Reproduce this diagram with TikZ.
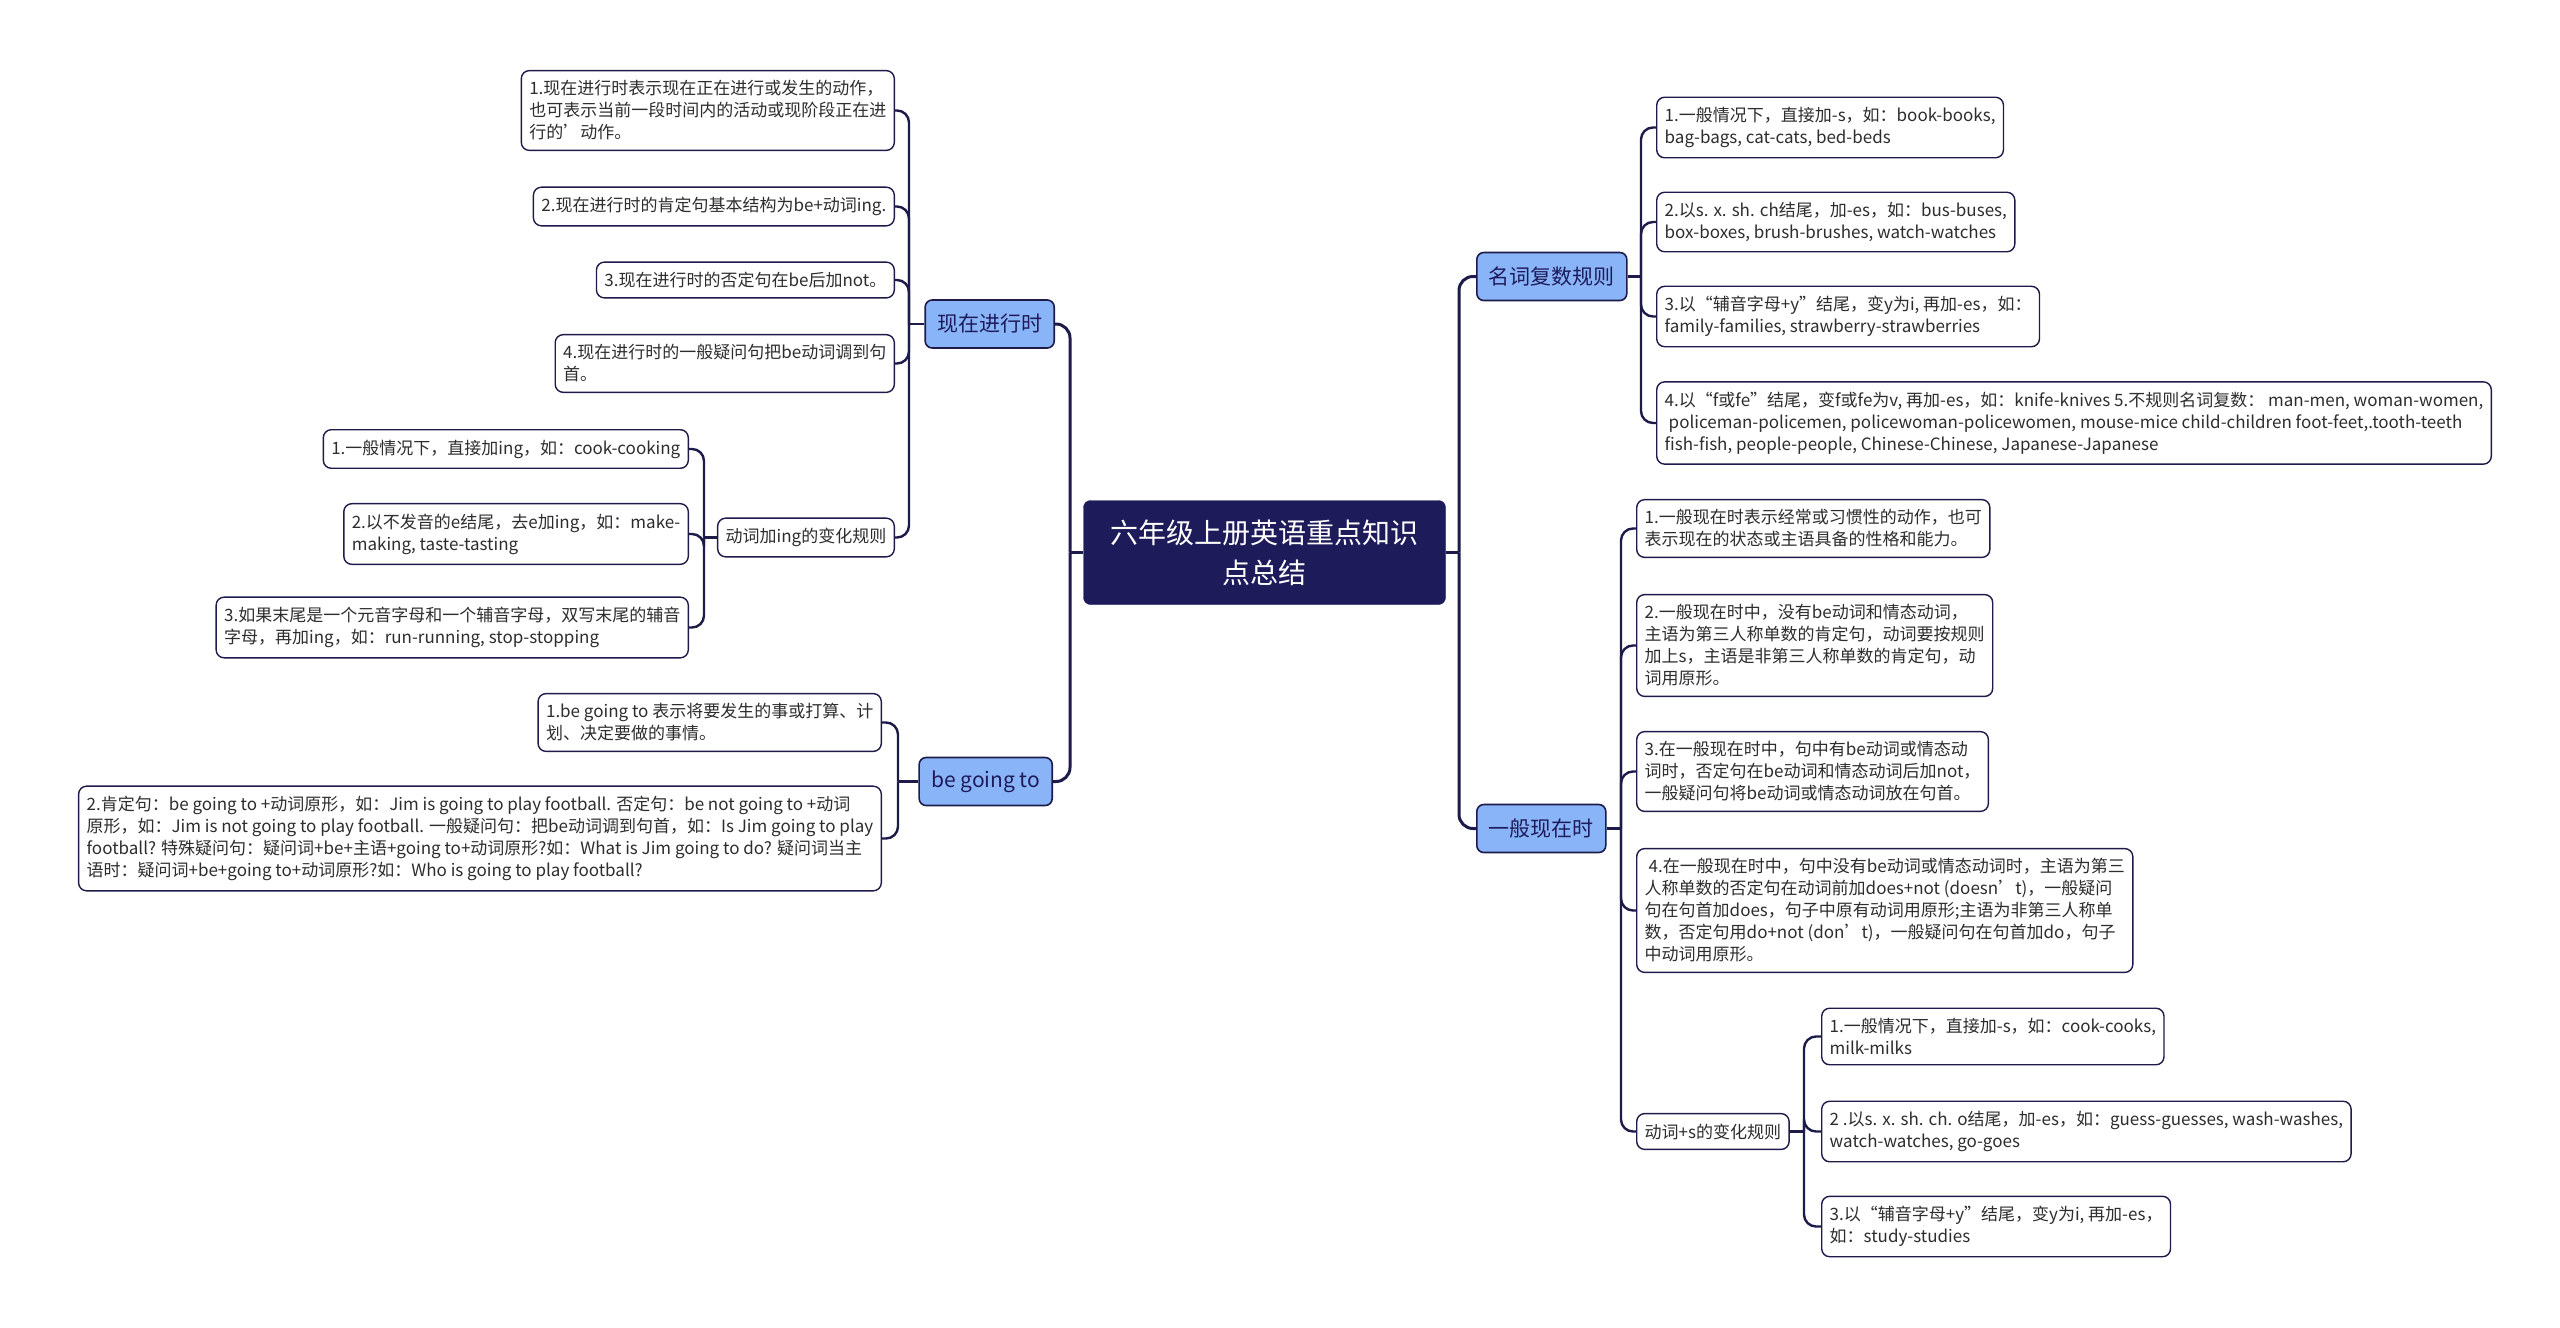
\documentclass[tikz,border=0pt]{standalone}
\usepackage{fontspec}
\setmainfont{Noto Sans CJK SC}
\definecolor{navy}{RGB}{30,27,90}
\definecolor{inkline}{RGB}{28,27,74}
\definecolor{branchblue}{RGB}{138,180,248}
\definecolor{leaftext}{RGB}{45,45,45}

\begin{document}
\begin{tikzpicture}[x=1pt, y=-1pt,
  rootbox/.style={draw=navy, fill=navy, rounded corners=7pt, align=center, text=white, font=\fontsize{28}{40}\selectfont, minimum width=362pt, minimum height=104pt},
  branch/.style={draw=inkline, line width=1.6pt, rounded corners=7pt, fill=branchblue, text=navy, font=\fontsize{21}{26}\selectfont, inner xsep=12pt, minimum height=48pt},
  leaf/.style={draw=inkline, line width=1.4pt, rounded corners=8pt, fill=white, align=left, text=leaftext, font=\fontsize{17}{22}\selectfont, inner xsep=8pt, inner ysep=10pt},
  trunk/.style={draw=inkline, line width=3pt},
  twig/.style={draw=inkline, line width=2.4pt, rounded corners=12pt}
]
  \useasboundingbox[fill=white] (0,0) rectangle (2560,1328);

  \node[rootbox] (root) at (1264.5,552.5) {六年级上册英语重点知识\\点总结};

  \node[branch, anchor=east] (now) at (1055,324) {现在进行时};
  \node[branch, anchor=east] (going) at (1053,781.5) {be going to};
  \node[branch, anchor=west] (noun) at (1476,276.5) {名词复数规则};
  \node[branch, anchor=west] (pres) at (1476,828.5) {一般现在时};

  % present continuous
  \node[leaf, anchor=east] (now1) at (895,110.5) {1.现在进行时表示现在正在进行或发生的动作，\\也可表示当前一段时间内的活动或现阶段正在进\\行的\char"0027动作。};
  \node[leaf, anchor=east] (now2) at (895,206.5) {2.现在进行时的肯定句基本结构为be+动词ing.};
  \node[leaf, anchor=east] (now3) at (895,280) {3.现在进行时的否定句在be后加not。};
  \node[leaf, anchor=east] (now4) at (895,363.5) {4.现在进行时的一般疑问句把be动词调到句\\首。};
  \node[leaf, anchor=east] (ing) at (895,537.5) {动词加ing的变化规则};

  \node[leaf, anchor=east] (ing1) at (689,449) {1.一般情况下，直接加ing，如：cook-cooking};
  \node[leaf, anchor=east] (ing2) at (689,534) {2.以不发音的e结尾，去e加ing，如：make-\\making, taste-tasting};
  \node[leaf, anchor=east] (ing3) at (689,627.5) {3.如果末尾是一个元音字母和一个辅音字母，双写末尾的辅音\\字母，再加ing，如：run-running, stop-stopping};

  % be going to
  \node[leaf, anchor=east] (going1) at (882,722.5) {1.be going to 表示将要发生的事或打算、计\\划、决定要做的事情。};
  \node[leaf, anchor=east] (going2) at (882,838.5) {2.肯定句：be going to +动词原形，如：Jim is going to play football. 否定句：be not going to +动词\\原形，如：Jim is not going to play football. 一般疑问句：把be动词调到句首，如：Is Jim going to play\\football? 特殊疑问句：疑问词+be+主语+going to+动词原形?如：What is Jim going to do? 疑问词当主\\语时：疑问词+be+going to+动词原形?如：Who is going to play football?};

  % noun plurals
  \node[leaf, anchor=west] (noun1) at (1656,127.5) {1.一般情况下，直接加-s，如：book-books,\\ bag-bags, cat-cats, bed-beds};
  \node[leaf, anchor=west] (noun2) at (1656,222) {2.以s. x. sh. ch结尾，加-es，如：bus-buses,\\box-boxes, brush-brushes, watch-watches};
  \node[leaf, anchor=west] (noun3) at (1656,316.5) {3.以“辅音字母+y”结尾，变y为i, 再加-es，如：\\family-families, strawberry-strawberries};
  \node[leaf, anchor=west] (noun4) at (1656,423) {4.以“f或fe”结尾，变f或fe为v, 再加-es，如：knife-knives 5.不规则名词复数： man-men, woman-women,\\\hspace{4pt}policeman-policemen, policewoman-policewomen, mouse-mice child-children foot-feet,.tooth-teeth\\fish-fish, people-people, Chinese-Chinese, Japanese-Japanese};

  % simple present
  \node[leaf, anchor=west] (pres1) at (1636,528.5) {1.一般现在时表示经常或习惯性的动作，也可\\表示现在的状态或主语具备的性格和能力。};
  \node[leaf, anchor=west] (pres2) at (1636,645.5) {2.一般现在时中，没有be动词和情态动词，\\主语为第三人称单数的肯定句，动词要按规则\\加上s，主语是非第三人称单数的肯定句，动\\词用原形。};
  \node[leaf, anchor=west] (pres3) at (1636,771.5) {3.在一般现在时中，句中有be动词或情态动\\词时，否定句在be动词和情态动词后加not，\\一般疑问句将be动词或情态动词放在句首。};
  \node[leaf, anchor=west] (pres4) at (1636,910.5) {\hspace{4pt}4.在一般现在时中，句中没有be动词或情态动词时，主语为第三\\人称单数的否定句在动词前加does+not (doesn’t)，一般疑问\\句在句首加does，句子中原有动词用原形;主语为非第三人称单\\数，否定句用do+not (don’t)，一般疑问句在句首加do，句子\\中动词用原形。};
  \node[leaf, anchor=west] (verbs) at (1636,1131.5) {动词+s的变化规则};

  \node[leaf, anchor=west] (verbs1) at (1821,1036.5) {1.一般情况下，直接加-s，如：cook-cooks,\\milk-milks};
  \node[leaf, anchor=west] (verbs2) at (1821,1131.5) {2 .以s. x. sh. ch. o结尾，加-es，如：guess-guesses, wash-washes,\\watch-watches, go-goes};
  \node[leaf, anchor=west] (verbs3) at (1821,1226.5) {3.以“辅音字母+y”结尾，变y为i, 再加-es，\\如：study-studies};

  % junctions
  \coordinate (lj) at (1070,552.5);
  \coordinate (rj) at (1459,552.5);
  \coordinate (nowj) at (909,324);
  \coordinate (ingj) at (704,537.5);
  \coordinate (goingj) at (898,781.5);
  \coordinate (nounj) at (1641,276.5);
  \coordinate (presj) at (1621,828.5);
  \coordinate (verbsj) at (1804,1131.5);

  \draw[trunk] (root.west) -- (lj);
  \draw[trunk, rounded corners=14pt] (lj) |- (now.east);
  \draw[trunk, rounded corners=14pt] (lj) |- (going.east);
  \draw[trunk] (root.east) -- (rj);
  \draw[trunk, rounded corners=14pt] (rj) |- (noun.west);
  \draw[trunk, rounded corners=14pt] (rj) |- (pres.west);

  \draw[twig] (now.west) -- (nowj);
  \draw[twig] (nowj) |- (now1.east);
  \draw[twig] (nowj) |- (now2.east);
  \draw[twig] (nowj) |- (now3.east);
  \draw[twig] (nowj) |- (now4.east);
  \draw[twig] (nowj) |- (ing.east);

  \draw[twig] (ing.west) -- (ingj);
  \draw[twig] (ingj) |- (ing1.east);
  \draw[twig] (ingj) |- (ing2.east);
  \draw[twig] (ingj) |- (ing3.east);

  \draw[twig] (going.west) -- (goingj);
  \draw[twig] (goingj) |- (going1.east);
  \draw[twig] (goingj) |- (going2.east);

  \draw[twig] (noun.east) -- (nounj);
  \draw[twig] (nounj) |- (noun1.west);
  \draw[twig] (nounj) |- (noun2.west);
  \draw[twig] (nounj) |- (noun3.west);
  \draw[twig] (nounj) |- (noun4.west);

  \draw[twig] (pres.east) -- (presj);
  \draw[twig] (presj) |- (pres1.west);
  \draw[twig] (presj) |- (pres2.west);
  \draw[twig] (presj) |- (pres3.west);
  \draw[twig] (presj) |- (pres4.west);
  \draw[twig] (presj) |- (verbs.west);

  \draw[twig] (verbs.east) -- (verbsj);
  \draw[twig] (verbsj) |- (verbs1.west);
  \draw[twig] (verbsj) |- (verbs2.west);
  \draw[twig] (verbsj) |- (verbs3.west);
\end{tikzpicture}
\end{document}
